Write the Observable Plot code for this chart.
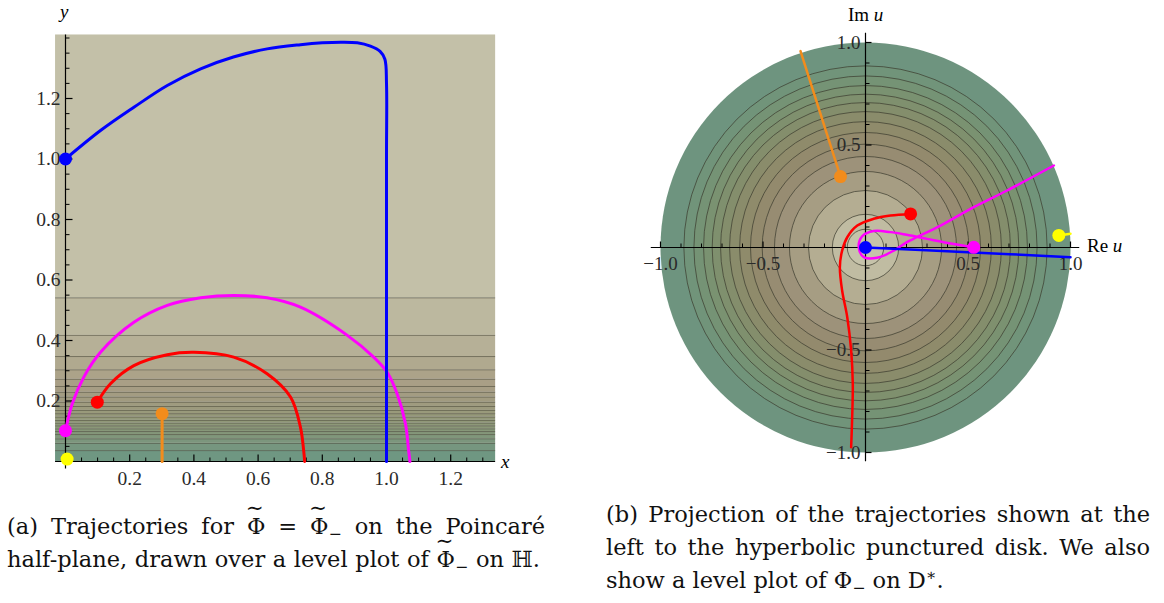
<!DOCTYPE html>
<html><head><meta charset="utf-8">
<script src="https://cdn.jsdelivr.net/npm/d3@7"></script>
<script src="https://cdn.jsdelivr.net/npm/@observablehq/plot@0.6"></script>
<style>
body{margin:0;background:#fff;width:1164px;height:603px;position:relative;overflow:hidden;font-family:"Liberation Serif","DejaVu Serif",serif;color:#000;}
.abs{position:absolute;}
.cap{position:absolute;font-family:"DejaVu Serif",serif;font-size:22.5px;color:#111;}
.ln{height:33px;line-height:33px;white-space:nowrap;text-align:justify;text-align-last:justify;}
.ln.last{text-align:left;text-align-last:left;}
.wt{position:relative;display:inline-block;}
.wt .tl{position:absolute;left:-0.05em;right:-0.05em;top:-0.62em;text-align:center;font-size:0.95em;line-height:1em;}
.sb{font-size:0.7em;vertical-align:-0.3em;line-height:0;}
.sp{font-size:0.7em;vertical-align:0.5em;line-height:0;}
.lbl{position:absolute;font-size:19px;line-height:20px;white-space:nowrap;}
.it{font-style:italic;}
</style></head><body>
<div id="left" class="abs" style="left:0;top:0"></div>
<div id="right" class="abs" style="left:620px;top:0"></div>
<div class="lbl it" style="left:60px;top:2px;">y</div>
<div class="lbl it" style="left:501px;top:452px;">x</div>
<div class="lbl" style="left:848px;top:5px;">Im <span class="it">u</span></div>
<div class="lbl" style="left:1087px;top:236px;">Re <span class="it">u</span></div>
<div class="cap" style="left:7px;top:510px;width:538px;">
  <div class="ln">(a) Trajectories for <span class="wt">Φ<span class="tl">∼</span></span> = <span class="wt">Φ<span class="tl">∼</span></span><span class="sb">−</span> on the Poincaré</div>
  <div class="ln" style="width:533px;">half-plane, drawn over a level plot of <span class="wt">Φ<span class="tl">∼</span></span><span class="sb">−</span> on ℍ.</div>
</div>
<div class="cap" style="left:606px;top:498px;width:544px;">
  <div class="ln">(b) Projection of the trajectories shown at the</div>
  <div class="ln">left to the hyperbolic punctured disk. We also</div>
  <div class="ln last">show a level plot of Φ<span class="sb">−</span> on D<span class="sp">∗</span>.</div>
</div>
<script>
// ---------- Panel (a): half-plane ----------
const bandY = [0, 0.036, 0.060, 0.075, 0.089, 0.099, 0.108, 0.118, 0.127, 0.136, 0.147, 0.158, 0.169, 0.182, 0.196, 0.213, 0.229, 0.248, 0.272, 0.303, 0.347, 0.417, 0.541, 1.41];
const bandColors = ["#6f9782","#76967f","#7c967d","#80967b","#84967a","#879779","#8a9778","#8d9878","#909878","#939979","#96997a","#999a7b","#9c9a7d","#9f9b7f","#a19b80","#a39c82","#a69d84","#a99f86","#aca389","#b0a98f","#b6b097","#bcb89f","#c3c0a8"];
const bgX = [-0.031, 1.34];

const blueX = [0, 0.109, 0.213, 0.317, 0.421, 0.523, 0.628, 0.732, 0.800, 0.860, 0.909, 0.950, 0.980, 0.995, 1.0, 1.0, 1.0];
const blueY = [1.0, 1.094, 1.171, 1.243, 1.298, 1.337, 1.364, 1.378, 1.384, 1.386, 1.384, 1.373, 1.356, 1.330, 1.25, 1.0, 0];
const magentaX = [0, 0.021, 0.057, 0.109, 0.213, 0.317, 0.421, 0.524, 0.628, 0.732, 0.878, 0.960, 1.002, 1.033, 1.059, 1.069, 1.073];
const magentaY = [0.102, 0.191, 0.279, 0.361, 0.460, 0.516, 0.541, 0.549, 0.541, 0.510, 0.417, 0.345, 0.295, 0.224, 0.125, 0.036, 0];
const redX = [0.099, 0.140, 0.213, 0.317, 0.400, 0.524, 0.628, 0.701, 0.732, 0.742, 0.745];
const redY = [0.196, 0.257, 0.317, 0.353, 0.361, 0.345, 0.290, 0.213, 0.113, 0.036, 0];
const orangeX = [0.301, 0.301];
const orangeY = [0.158, 0];
const yellowX = [0.005];
const yellowY = [0.008];

const hXMajor = [0.2, 0.4, 0.6, 0.8, 1.0, 1.2];
const hXMinor = [0.05,0.1,0.15,0.25,0.3,0.35,0.45,0.5,0.55,0.65,0.7,0.75,0.85,0.9,0.95,1.05,1.1,1.15,1.25,1.3];
const hXLabels = ["0.2","0.4","0.6","0.8","1.0","1.2"];
const hYMajor = [0.2, 0.4, 0.6, 0.8, 1.0, 1.2];
const hYMinor = [0.05,0.1,0.15,0.25,0.3,0.35,0.45,0.5,0.55,0.65,0.7,0.75,0.85,0.9,0.95,1.05,1.1,1.15,1.25,1.3,1.35,1.4];
const hYLabels = ["0.2","0.4","0.6","0.8","1.0","1.2"];

const COL = {blue:"#0000ff", magenta:"#ff00ff", red:"#ff0000", orange:"#f28c1c", yellow:"#ffff00"};

const zip = (xs, ys) => xs.map((x, i) => ({x, y: ys[i]}));
const bands = bandColors.map((c, i) => ({y1: bandY[i], y2: bandY[i+1], c}));
const contourY = bandY.slice(1, -1);
const trajA = [
  {k:"magenta", d: zip(magentaX, magentaY)},
  {k:"red", d: zip(redX, redY)},
  {k:"orange", d: zip(orangeX, orangeY)},
  {k:"blue", d: zip(blueX, blueY)}
];
const startsA = [
  {x: blueX[0], y: blueY[0], k:"blue"},
  {x: magentaX[0], y: magentaY[0], k:"magenta"},
  {x: redX[0], y: redY[0], k:"red"},
  {x: orangeX[0], y: orangeY[0], k:"orange"},
  {x: yellowX[0], y: yellowY[0], k:"yellow"}
];

const tkA = 302.5;
const font = "Liberation Serif";
const left = Plot.plot({
  width: 530, height: 490,
  x: {domain: [0, 1.34], range: [65, 65 + 1.34*321], axis: null},
  y: {domain: [0, 1.41], range: [461, 461 - 1.41*302.5], axis: null},
  color: {type: "identity"},
  style: {background: "transparent", overflow: "visible"},
  marks: [
    Plot.rect(bands, {x1: () => bgX[0], x2: () => bgX[1], y1: "y1", y2: "y2", fill: "c"}),
    Plot.ruleY(contourY, {x1: () => bgX[0], x2: () => bgX[1], stroke: "#4e4c3e", strokeOpacity: 0.6, strokeWidth: 1}),
    Plot.ruleY([0], {x1: () => bgX[0], x2: () => bgX[1], stroke: "#000", strokeWidth: 1.2}),
    Plot.ruleX([0], {y1: () => -0.025, y2: () => 1.41, stroke: "#000", strokeWidth: 1.2}),
    Plot.link(hXMajor, {x1: d => d, x2: d => d, y1: () => 0, y2: () => 7/tkA, stroke: "#000", strokeWidth: 1.2}),
    Plot.link(hXMinor, {x1: d => d, x2: d => d, y1: () => 0, y2: () => 4/tkA, stroke: "#000", strokeWidth: 1}),
    Plot.link(hYMajor, {y1: d => d, y2: d => d, x1: () => 0, x2: () => 7/321, stroke: "#000", strokeWidth: 1.2}),
    Plot.link(hYMinor, {y1: d => d, y2: d => d, x1: () => 0, x2: () => 4/321, stroke: "#000", strokeWidth: 1}),
    Plot.text(hXMajor, {x: d => d, y: () => 0, text: (d, i) => hXLabels[i], dy: 17, fontSize: 19.5, fontFamily: font, fill: "#2a2a2a"}),
    Plot.text(hYMajor, {x: () => 0, y: d => d, text: (d, i) => hYLabels[i], dx: -5, textAnchor: "end", fontSize: 19.5, fontFamily: font, fill: "#2a2a2a"}),
    ...trajA.map(t => Plot.line(t.d, {x: "x", y: "y", stroke: COL[t.k], strokeWidth: 3, curve: "catmull-rom"})),
    Plot.dot(startsA, {x: "x", y: "y", r: 6.5, fill: d => COL[d.k], stroke: "none"})
  ]
});
document.getElementById("left").appendChild(left);

// ---------- Panel (b): punctured disk ----------
const diskCenter = [0, 0];
const diskR = [1.0, 0.886, 0.837, 0.79, 0.748, 0.707, 0.663, 0.614, 0.561, 0.504, 0.444, 0.371, 0.278, 0.162, 0.089];
const diskColors = ["#6e947f","#71947a","#759375","#7a9271","#7f906e","#848e6c","#8a8c6b","#8f8b6b","#938a6d","#978c72","#9d927a","#a69d83","#b4ad92","#c0bca2","#c6c3aa"];

const dBlueRe = [0, 0.5, 1.0];
const dBlueIm = [0, -0.023, -0.047];
const dMagRe = [0.528, 0.40, 0.30, 0.20, 0.122, 0.040, -0.016, -0.033, -0.008, 0.057, 0.138, 0.20, 0.25, 0.366, 0.528, 0.691, 0.919];
const dMagIm = [0.001, 0.022, 0.042, 0.062, 0.075, 0.080, 0.055, 0.0, -0.047, -0.050, -0.015, 0.025, 0.050, 0.107, 0.197, 0.278, 0.400];
const dRedRe = [0.22, 0.122, 0.04, -0.04, -0.089, -0.114, -0.125, -0.114, -0.089, -0.070, -0.062, -0.065, -0.070];
const dRedIm = [0.164, 0.156, 0.140, 0.107, 0.05, -0.015, -0.096, -0.21, -0.34, -0.502, -0.665, -0.828, -0.974];
const dOrRe = [-0.122, -0.317];
const dOrIm = [0.346, 0.958];
const dYelRe = [0.943, 1.0];
const dYelIm = [0.059, 0.067];

const dMajor = [-1.0, -0.5, 0.5, 1.0];
const dMajorLabels = ["−1.0", "−0.5", "0.5", "1.0"];
const dMinor = [-0.9,-0.8,-0.7,-0.6,-0.4,-0.3,-0.2,-0.1,0.1,0.2,0.3,0.4,0.6,0.7,0.8,0.9];
const dAxisExt = [-1.045, 1.045];

const diskFill = diskR.map((r, i) => ({x: diskCenter[0], y: diskCenter[1], r, c: diskColors[i]}));
const diskLines = diskR.slice(1).map(r => ({x: diskCenter[0], y: diskCenter[1], r}));
const trajB = [
  {k:"orange", d: zip(dOrRe, dOrIm)},
  {k:"red", d: zip(dRedRe, dRedIm)},
  {k:"magenta", d: zip(dMagRe, dMagIm)},
  {k:"blue", d: zip(dBlueRe, dBlueIm)},
  {k:"yellow", d: zip(dYelRe, dYelIm)}
];
const startsB = trajB.map(t => ({x: t.d[0].x, y: t.d[0].y, k: t.k}));
const u = 205;
const right = Plot.plot({
  width: 544, height: 480,
  x: {domain: [-1, 1], range: [245 - u, 245 + u], axis: null},
  y: {domain: [-1, 1], range: [247 + u, 247 - u], axis: null},
  r: {type: "linear", domain: [0, 1], range: [0, u]},
  color: {type: "identity"},
  style: {background: "transparent", overflow: "visible"},
  marks: [
    Plot.dot(diskFill, {x: "x", y: "y", r: "r", fill: "c", stroke: "none"}),
    Plot.dot(diskLines, {x: "x", y: "y", r: "r", fill: "none", stroke: "#3a3a2e", strokeOpacity: 0.7, strokeWidth: 1}),
    Plot.ruleY([0], {x1: () => dAxisExt[0], x2: () => dAxisExt[1], stroke: "#000", strokeWidth: 1.2}),
    Plot.ruleX([0], {y1: () => dAxisExt[0], y2: () => dAxisExt[1], stroke: "#000", strokeWidth: 1.2}),
    Plot.link(dMajor, {x1: d => d, x2: d => d, y1: () => 0, y2: () => 6/u, stroke: "#000", strokeWidth: 1.2}),
    Plot.link(dMinor, {x1: d => d, x2: d => d, y1: () => 0, y2: () => 4/u, stroke: "#000", strokeWidth: 1}),
    Plot.link(dMajor, {y1: d => d, y2: d => d, x1: () => 0, x2: () => 6/u, stroke: "#000", strokeWidth: 1.2}),
    Plot.link(dMinor, {y1: d => d, y2: d => d, x1: () => 0, x2: () => 4/u, stroke: "#000", strokeWidth: 1}),
    Plot.text(dMajor, {x: d => d, y: () => 0, text: (d, i) => dMajorLabels[i], dy: 16, fontSize: 19, fontFamily: font, fill: "#2a2a2a"}),
    Plot.text(dMajor, {x: () => 0, y: d => d, text: (d, i) => dMajorLabels[i], dx: -5, textAnchor: "end", fontSize: 19, fontFamily: font, fill: "#2a2a2a"}),
    ...trajB.map(t => Plot.line(t.d, {x: "x", y: "y", stroke: COL[t.k], strokeWidth: 2.5, curve: "catmull-rom"})),
    Plot.dot(startsB, {x: "x", y: "y", r: 6.5, fill: d => COL[d.k], stroke: "none"})
  ]
});
document.getElementById("right").appendChild(right);
</script>
</body></html>
